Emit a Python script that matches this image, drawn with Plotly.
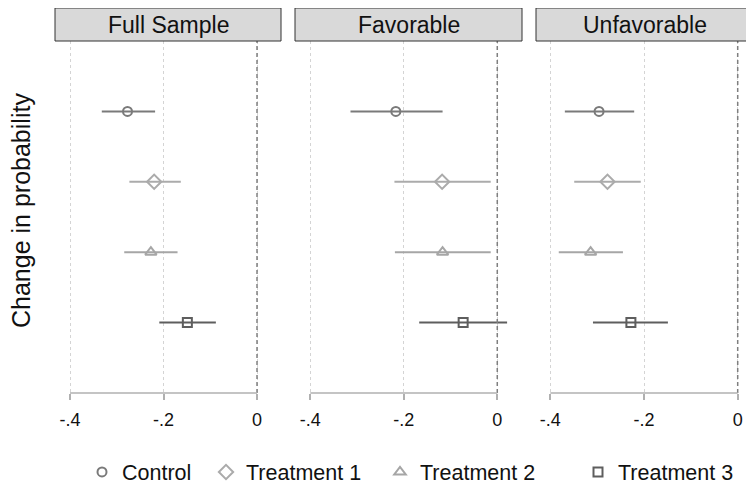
import plotly.graph_objects as go

panels = ["Full Sample", "Favorable", "Unfavorable"]
series = ["Control", "Treatment 1", "Treatment 2", "Treatment 3"]
row_pos = [1, 2, 3, 4]

# point estimates per panel (order: Control, T1, T2, T3)
est_full = [-0.277, -0.220, -0.227, -0.149]
lo_full = [-0.332, -0.273, -0.284, -0.209]
hi_full = [-0.218, -0.163, -0.170, -0.088]

est_fav = [-0.217, -0.118, -0.117, -0.073]
lo_fav = [-0.314, -0.220, -0.219, -0.167]
hi_fav = [-0.117, -0.014, -0.014, 0.021]

est_unf = [-0.296, -0.278, -0.314, -0.228]
lo_unf = [-0.369, -0.349, -0.382, -0.309]
hi_unf = [-0.221, -0.207, -0.245, -0.149]

tick_vals = [-0.4, -0.2, 0]
tick_text = ["-.4", "-.2", "0"]

est = [est_full, est_fav, est_unf]
lo = [lo_full, lo_fav, lo_unf]
hi = [hi_full, hi_fav, hi_unf]

symbols = ["circle-open", "diamond-open", "triangle-up-open", "square-open"]
colors = ["#7a7a7a", "#ababab", "#a6a6a6", "#5e5e5e"]
sizes = [9, 11, 10, 9]

FONT = "Liberation Sans, Arial, Helvetica, sans-serif"

# the page has an 8px body margin; figure coordinates = window coordinates - 8
W, H = 746, 477
ML, MR, MT, MB = 47, 0, 33, 92
pw = W - ML - MR
ph = H - MT - MB
px_panels = [(47, 273), (287, 514), (528, 746)]
domains = [[(a - ML) / pw, (b - ML) / pw] for a, b in px_panels]
ranges = [[-0.4321, 0.0513], [-0.4327, 0.0529], [-0.4306, 0.0348]]

# legend entry left edges (figure px)
legend_left_px = [74, 198, 372, 570]
legend_names = ["legend", "legend2", "legend3", "legend4"]

fig = go.Figure()
for p in range(3):
    xa = "x" if p == 0 else f"x{p+1}"
    ya = "y" if p == 0 else f"y{p+1}"
    for s in range(4):
        e = est[p][s]
        fig.add_trace(go.Scatter(
            x=[e], y=[row_pos[s]], xaxis=xa, yaxis=ya,
            mode="markers", name=series[s], legendgroup=series[s],
            legend=legend_names[s],
            showlegend=(p == 0),
            marker=dict(symbol=symbols[s], size=sizes[s], color=colors[s],
                        line=dict(width=2, color=colors[s])),
            error_x=dict(type="data", symmetric=False,
                         array=[hi[p][s] - e], arrayminus=[e - lo[p][s]],
                         color=colors[s], thickness=2, width=0),
        ))

layout = dict(
    width=W, height=H,
    margin=dict(l=ML, r=MR, t=MT, b=MB, autoexpand=False),
    plot_bgcolor="white", paper_bgcolor="white",
    font=dict(family=FONT, size=18, color="#111"),
    showlegend=True,
)
for i, ln in enumerate(legend_names):
    layout[ln] = dict(orientation="h", x=(legend_left_px[i] - ML) / pw, xanchor="left",
                      y=-(464 - (MT + ph)) / ph, yanchor="middle",
                      font=dict(size=21.5, color="#111"), itemsizing="trace",
                      bgcolor="rgba(0,0,0,0)")

shapes = []
annotations = []
for p in range(3):
    sfx = "" if p == 0 else str(p + 1)
    layout[f"xaxis{sfx}"] = dict(
        domain=domains[p], range=ranges[p], anchor=f"y{sfx}" if p else "y",
        tickmode="array", tickvals=tick_vals, ticktext=tick_text,
        ticks="outside", ticklen=6, tickwidth=1.5, tickcolor="#b0b0b0",
        showline=False, zeroline=False,
        showgrid=True, gridcolor="#d4d4d4", griddash="dot", gridwidth=1,
        tickfont=dict(size=18, color="#111"), ticklabelstandoff=4,
        fixedrange=True,
    )
    layout[f"yaxis{sfx}"] = dict(
        domain=[0, 1], range=[5, 0], anchor=f"x{sfx}" if p else "x",
        showticklabels=False, showgrid=False, zeroline=False, showline=False,
        ticks="", fixedrange=True,
    )
    xr = "x" + sfx
    yr = ("y" + sfx) + " domain"
    shapes.append(dict(type="line", xref=xr, yref=yr, x0=0, x1=0, y0=0, y1=1,
                       line=dict(color="#7f7f7f", width=1.5, dash="4px,3px")))
    shapes.append(dict(type="line", xref=xr, yref=yr, x0=tick_vals[0], x1=tick_vals[-1],
                       y0=0, y1=0, line=dict(color="#b0b0b0", width=1.5)))
    shapes.append(dict(type="rect", xref="paper", yref="paper",
                       x0=domains[p][0], x1=domains[p][1],
                       y0=1, y1=1 + 33 / ph,
                       fillcolor="#d9d9d9", line=dict(color="#333", width=1)))
    annotations.append(dict(text=panels[p], xref="paper", yref="paper",
                            x=(domains[p][0] + domains[p][1]) / 2,
                            y=1 + 16.5 / ph,
                            xanchor="center", yanchor="middle", showarrow=False,
                            font=dict(size=23, color="#111")))

annotations.append(dict(text="Change in probability", xref="paper", yref="paper",
                        x=(13 - ML) / pw, y=0.5 + 6 / ph, xanchor="center", yanchor="middle",
                        textangle=-90, showarrow=False,
                        font=dict(size=25, color="#111")))
layout["shapes"] = shapes
layout["annotations"] = annotations
fig.update_layout(**layout)
fig.write_html("out.html")
